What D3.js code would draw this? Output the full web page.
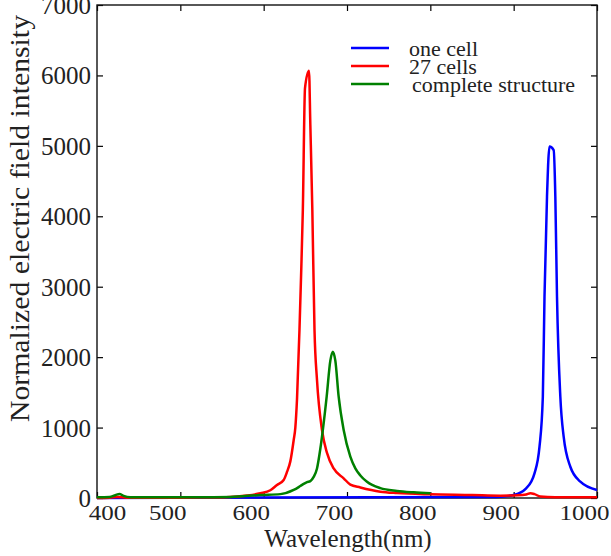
<!DOCTYPE html>
<html>
<head>
<meta charset="utf-8">
<script src="https://cdn.jsdelivr.net/npm/d3@7"></script>
<style>
  html, body { margin: 0; padding: 0; background: #fff; }
  svg { display: block; }
  text { font-family: "Liberation Serif", "Times New Roman", serif; fill: #222; }
</style>
</head>
<body>
<div id="chart"></div>
<script>
// ---- data ----
const seriesNames = ["one cell", "27 cells", "complete structure"];
const seriesColors = ["#0000ff", "#ff0000", "#008000"];

const oneCellWl  = [400, 880, 900, 915, 925, 931, 935, 937, 940, 943, 948, 950, 952, 956, 960, 968, 980, 1000];
const oneCellVal = [0, 15, 43, 137, 350, 728, 1438, 2858, 4278, 4990, 4940, 4278, 2858, 1438, 870, 444, 232, 114];

const cells27Wl  = [400, 415, 425, 435, 450, 500, 535, 555, 580, 596, 608, 616, 624, 628, 632, 636, 638, 640, 643, 645, 647, 649.6, 654.4, 656, 658.4, 661, 664, 670, 676, 684, 696, 704, 716, 740, 760, 800, 850, 884, 905, 915, 920, 925, 932, 950, 1000];
const cells27Val = [0, 5, 15, 5, 3, 5, 8, 12, 35, 67, 110, 185, 256, 370, 520, 820, 1000, 1400, 2400, 3200, 4089, 5821, 6068, 5300, 4089, 2385, 1675, 965, 640, 420, 280, 190, 150, 90, 70, 52, 42, 33, 38, 50, 67, 55, 20, 12, 10];

const completeWl  = [400, 415, 422, 427, 432, 440, 480, 520, 560, 596, 620, 636, 644, 648, 652, 656, 660, 664, 668, 671, 675.6, 680, 683, 686, 690, 696, 704, 710, 716, 724, 740, 760, 780, 800];
const completeVal = [10, 15, 40, 57, 30, 12, 10, 10, 15, 43, 55, 114, 170, 200, 225, 240, 300, 420, 700, 965, 1438, 1950, 2078, 1950, 1438, 965, 586, 420, 320, 230, 140, 100, 80, 67];

const xTicks = [400, 500, 600, 700, 800, 900, 1000];
const yTicks = [0, 1000, 2000, 3000, 4000, 5000, 6000, 7000];
const xTitle = "Wavelength(nm)";
const yTitle = "Normalized electric field intensity";

// ---- layout ----
const W = 611, H = 556;
const pL = 97, pR = 597, pT = 5, pB = 498;

const svg = d3.select("#chart").append("svg").attr("width", W).attr("height", H);

const x = d3.scaleLinear().domain([400, 1000]).range([pL, pR]);
const y = d3.scaleLinear().domain([0, 7000]).range([pB, pT]);

// axes
const axB = svg.append("g").attr("transform", `translate(0,${pB})`)
  .call(d3.axisBottom(x).tickValues(xTicks).tickSizeInner(-6).tickSizeOuter(0).tickFormat(d3.format("d")));
axB.select(".domain").remove();
axB.selectAll("text")
  .attr("y", 0).attr("dy", 0)
  .attr("transform", d => `translate(${d === 400 ? 10 : -13},22) scale(1,0.85)`)
  .style("font-size", "25px").attr("fill", "#222");

const axL = svg.append("g").attr("transform", `translate(${pL},0)`)
  .call(d3.axisLeft(y).tickValues(yTicks).tickSizeInner(-6).tickSizeOuter(0).tickFormat(d3.format("d")));
axL.select(".domain").remove();
axL.selectAll("text").attr("x", -6).attr("dy", "0.34em").style("font-size", "25px").attr("fill", "#222");

const axT = svg.append("g").attr("transform", `translate(0,${pT})`)
  .call(d3.axisTop(x).tickValues(xTicks).tickSizeInner(-6).tickSizeOuter(0).tickFormat(""));
axT.select(".domain").remove();

const axR = svg.append("g").attr("transform", `translate(${pR},0)`)
  .call(d3.axisRight(y).tickValues(yTicks).tickSizeInner(-6).tickSizeOuter(0).tickFormat(""));
axR.select(".domain").remove();

svg.selectAll(".tick line").attr("stroke", "#000").attr("stroke-width", 1.2);

svg.append("rect")
  .attr("x", pL).attr("y", pT).attr("width", pR - pL).attr("height", pB - pT)
  .attr("fill", "none").attr("stroke", "#111").attr("stroke-width", 1.4);

// lines
const series = [
  oneCellWl.map((w, i) => [w, oneCellVal[i]]),
  cells27Wl.map((w, i) => [w, cells27Val[i]]),
  completeWl.map((w, i) => [w, completeVal[i]])
];
const line = d3.line().x(d => x(d[0])).y(d => y(d[1])).curve(d3.curveMonotoneX);
series.forEach((s, i) => {
  svg.append("path").datum(s)
    .attr("d", line)
    .attr("fill", "none")
    .attr("stroke", seriesColors[i])
    .attr("stroke-width", 2.5)
    .attr("stroke-linejoin", "round");
});

// legend
const leg = svg.append("g");
seriesNames.forEach((name, i) => {
  const ly = 48 + i * 18;
  leg.append("line").attr("x1", 351).attr("x2", 389).attr("y1", ly).attr("y2", ly)
    .attr("stroke", seriesColors[i]).attr("stroke-width", 2.5);
  leg.append("text").attr("x", i === 2 ? 412 : 409).attr("y", ly + 7.5)
    .style("font-size", "22px").text(name);
});

// titles
svg.append("text").attr("x", 348).attr("y", 547).attr("text-anchor", "middle")
  .style("font-size", "25px").text(xTitle);
svg.append("text").attr("transform", "translate(29,218.5) rotate(-90)")
  .attr("text-anchor", "middle").style("font-size", "27px")
  .attr("textLength", 407).attr("lengthAdjust", "spacingAndGlyphs")
  .text(yTitle);
</script>
</body>
</html>
